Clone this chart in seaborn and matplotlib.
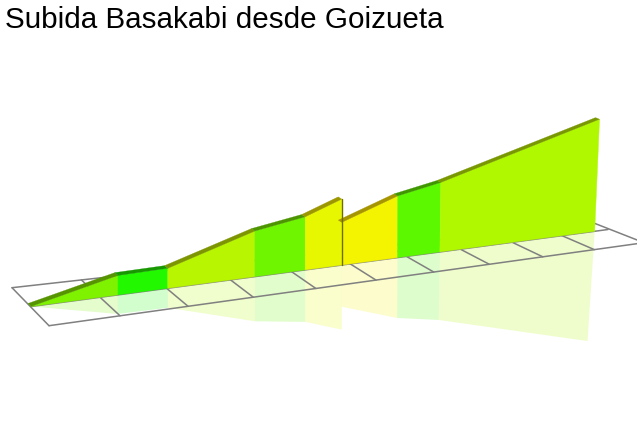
import numpy as np
import seaborn as sns
import matplotlib
matplotlib.use("Agg")
import matplotlib.pyplot as plt

# route profile: km along the climb and metres gained
profile_km = [0, 1.27, 2.03, 3.42, 4.26, 4.89, 4.89, 5.88, 6.66, 9.72]
profile_alt = [0, 100, 104, 245, 290, 365, 236, 348, 398, 680]
# one colour per stretch between two profile points
stretch_colors = ['#7ff200', '#22f800', '#b8f500', '#70f500', '#e6f700',
                  None, '#f4f400', '#5cf800', '#b0f800']
grid_km = list(range(0, 11))
title_text = 'Subida Basakabi desde Goizueta'

# floor corners and wall line in the picture
FRONT_L, FRONT_R = np.array([49., 326.7]), np.array([644., 243.7])
BACK_L, BACK_R = np.array([12., 288.7]), np.array([593., 223.7])
WALL_L, WALL_R = np.array([31., 307.5]), np.array([608., 230.5])
PERSP = 0.22
PX_PER_M = 0.2


def warp(km):
    u = np.asarray(km, dtype=float) / 10
    return (1 + PERSP) * u / (1 + PERSP * u)


def wall_base(km, back=0.0):
    w = warp(km)
    p = WALL_L + (WALL_R - WALL_L) * w
    front = FRONT_L + (FRONT_R - FRONT_L) * w
    rear = BACK_L + (BACK_R - BACK_L) * w
    return p + (rear - front) * back


def project(km, alt, back=0.0, mirror=1.0):
    w = warp(km)
    u = km / 10
    h = alt * PX_PER_M / (1 + PERSP * u)
    lean = max(0, w - 0.6) * 0.115
    #the reflection leans a bit more than the wall
    if mirror < 0:
        lean = lean * 1.5
    p = wall_base(km, back)
    return p + np.array([lean * h * mirror, -h * mirror])


def darker(col):
    r, g, b = matplotlib.colors.to_rgb(col)
    return (r * 0.68, g * 0.61, b * 0.6)


sns.set_style("white")
plt.rcParams['font.family'] = ['Liberation Sans', 'DejaVu Sans']

fig = plt.figure(figsize=(6.37, 4.27), dpi=100)
ax = fig.add_axes([0, 0, 1, 1])
ax.set_xlim(0, 637)
ax.set_ylim(427, 0)
ax.axis('off')


def grid_line(a, b):
    sns.lineplot(x=[a[0], b[0]], y=[a[1], b[1]], ax=ax, color='#808080',
                 linewidth=1.1, sort=False, estimator=None, zorder=2.5)


# floor
grid_line(FRONT_L, FRONT_R)
grid_line(BACK_L, BACK_R)
for k in grid_km:
    w = warp(k)
    grid_line(FRONT_L + (FRONT_R - FRONT_L) * w, BACK_L + (BACK_R - BACK_L) * w)
grid_line(WALL_L, WALL_R)

# reflection on the floor, then the wall with its darker top
for i, col in enumerate(stretch_colors):
    if col is None:
        continue
    k0, k1 = profile_km[i], profile_km[i + 1]
    a0, a1 = profile_alt[i], profile_alt[i + 1]
    b0, b1 = wall_base(k0), wall_base(k1)

    r0, r1 = project(k0, a0, mirror=-0.98), project(k1, a1, mirror=-0.98)
    ax.fill([b0[0], b1[0], r1[0], r0[0]], [b0[1], b1[1], r1[1], r0[1]],
            color=col, alpha=0.2, lw=0, zorder=2)

    t0, t1 = project(k0, a0), project(k1, a1)
    ax.fill([b0[0], b1[0], t1[0], t0[0]], [b0[1], b1[1], t1[1], t0[1]],
            color=col, lw=0.3, zorder=3)

    s0, s1 = project(k0, a0, back=0.08), project(k1, a1, back=0.08)
    ax.fill([t0[0], t1[0], s1[0], s0[0]], [t0[1], t1[1], s1[1], s0[1]],
            color=darker(col), lw=0.2, zorder=4)

# end of the first wall, seen where the profile drops
drop = profile_km.index(4.89)
top = project(profile_km[drop], profile_alt[drop])
base = wall_base(profile_km[drop])
ax.plot([top[0], base[0]], [top[1], base[1]], color='#6e6e00', lw=1, zorder=5)

ax.text(5, 28, title_text, fontsize=21.35, color='black', ha='left', va='baseline')

fig.savefig('out.png', dpi=100)
